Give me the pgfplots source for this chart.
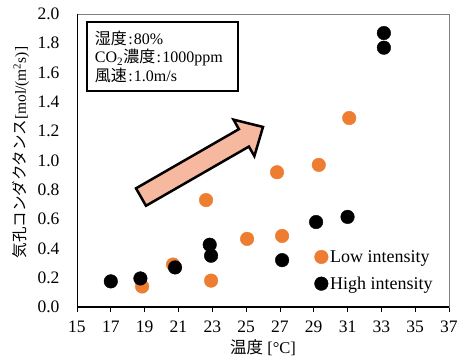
\documentclass[border=0pt]{standalone}
\usepackage{pgfplots}
\pgfplotsset{compat=1.18}
\usepackage{fontspec}
\setmainfont{Liberation Serif}
\newfontfamily\jp{Noto Sans CJK JP}
\definecolor{lowc}{RGB}{237,125,49}
\definecolor{arrowfill}{RGB}{246,184,158}
\newcommand{\col}{\makebox[7pt]{:}}
\begin{document}
\begin{tikzpicture}
\begin{axis}[
  scale only axis,
  width=372pt, height=293pt,
  xmin=15, xmax=37, ymin=0, ymax=2,
  xtick={15,17,...,37},
  ytick={0,0.2,...,2.01},
  /pgf/number format/assume math mode=true,
  yticklabel style={/pgf/number format/fixed,/pgf/number format/fixed zerofill,/pgf/number format/precision=1, xshift=-9pt},
  xticklabel style={yshift=-5pt},
  ticklabel style={font=\fontsize{17.5}{20}\selectfont},
  tick pos=left,
  tick align=outside,
  x tick style={black, line width=0.8pt},
  y tick style={draw=none},
  major tick length=5pt,
  axis line style={draw=gray, line width=0.8pt},
  xlabel={{\jp 温度} [°C]},
  ylabel={{\jp 気孔コンダクタンス}[mol/(m\textsuperscript{2}s)]},
  xlabel style={font=\fontsize{16.5}{18}\selectfont, at={(axis description cs:0.5,-0.14)}, anchor=center},
  ylabel style={font=\fontsize{15.5}{18}\selectfont, at={(axis description cs:-0.1505,0.527)}, anchor=center},
  legend style={draw=none, fill=none, at={(rel axis cs:0.63,0.208)}, anchor=north west,
    font=\fontsize{18}{20}\selectfont, row sep=9pt},
  legend cell align=left,
]
\draw[fill=arrowfill, draw=black, line width=2.5pt, line join=miter]
  (axis cs:18.49,0.810) -- (axis cs:24.575,1.214) -- (axis cs:24.255,1.279) -- (axis cs:26.0,1.229)
  -- (axis cs:25.49,1.030) -- (axis cs:25.166,1.095) -- (axis cs:19.08,0.691) -- cycle;
\addplot[only marks, mark=*, mark size=6.8pt, mark options={draw=lowc, fill=lowc}] coordinates {
 (18.85,0.14) (20.68,0.29) (22.63,0.73) (22.93,0.18) (25.06,0.465) (27.13,0.485)
 (26.83,0.92) (29.3,0.97) (31.1,1.29)
};
\addlegendentry{Low intensity}
\addplot[only marks, mark=*, mark size=6.8pt, mark options={draw=black, fill=black}] coordinates {
 (17.0,0.175) (18.75,0.195) (20.8,0.27) (22.85,0.425) (22.93,0.35) (27.13,0.32)
 (29.14,0.58) (31.0,0.615) (33.15,1.87) (33.15,1.77)
};
\addlegendentry{High intensity}
\draw[black, line width=0.9pt] (rel axis cs:0,0) -- (rel axis cs:0,1);
\draw[black, line width=2pt] (rel axis cs:0,0) -- (rel axis cs:1,0);
\node[draw=black, line width=2pt, fill=white, anchor=north west, align=left, inner sep=0pt,
  minimum width=151pt, minimum height=69pt, text width=135pt,
  font=\fontsize{16}{18.5}\selectfont]
  at (rel axis cs:0.0242,0.976) {{\jp 湿度}\col 80\%\\CO\textsubscript{2}{\jp 濃度}\col 1000ppm\\{\jp 風速}\col 1.0m/s};
\end{axis}
\pgfresetboundingbox
\path (-77pt,-53pt) rectangle (382pt,307pt);
\end{tikzpicture}
\end{document}
